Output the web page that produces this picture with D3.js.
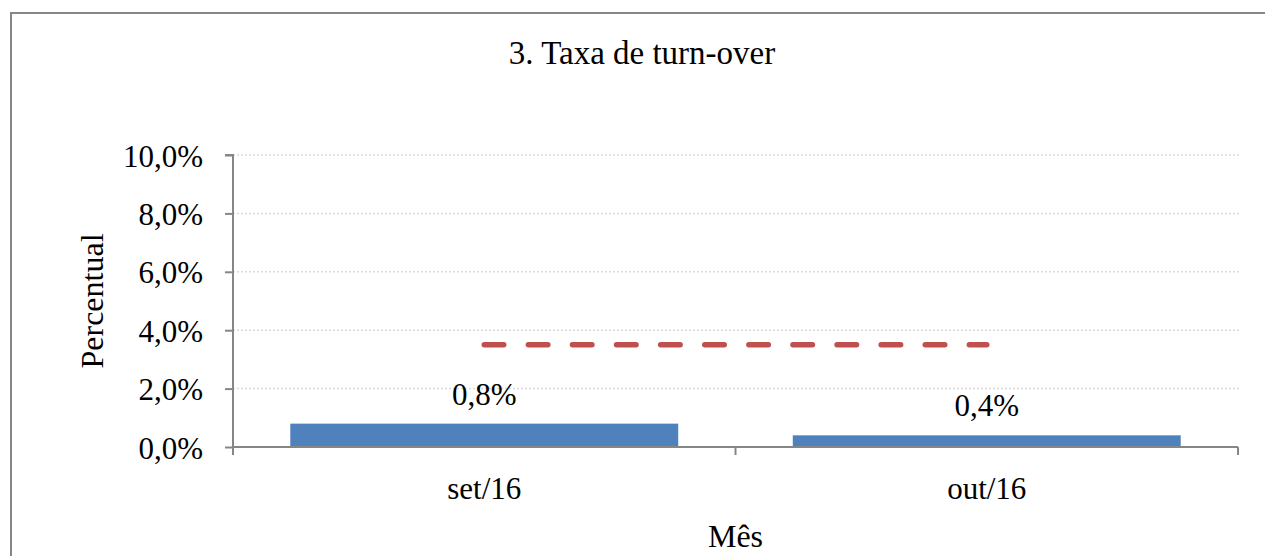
<!DOCTYPE html>
<html>
<head>
<meta charset="utf-8">
<script src="https://cdn.jsdelivr.net/npm/d3@7/dist/d3.min.js"></script>
<style>
  html, body { margin: 0; padding: 0; background: #fff; }
  svg { display: block; }
  text { font-family: "Liberation Serif", "Times New Roman", serif; fill: #000; }
</style>
</head>
<body>
<svg id="chart" width="1265" height="556"></svg>
<script>
const categories = ["set/16", "out/16"];
const turnover = [0.8, 0.4];
const meta = [3.5, 3.5];
const yTicks = [0, 2, 4, 6, 8, 10];
const titleText = "3. Taxa de turn-over";
const xTitle = "Mês";
const yTitle = "Percentual";

const svg = d3.select("#chart");
const W = 1265, H = 556;
const m = { left: 233, right: 1238, top: 155, bottom: 447 };
const axisColor = "#868686";
const fmt = v => v.toFixed(1).replace(".", ",") + "%";

// outer frame
svg.append("rect").attr("x", 11).attr("y", 13).attr("width", W + 20).attr("height", H + 20)
  .attr("fill", "none").attr("stroke", axisColor).attr("stroke-width", 2);

const x = d3.scaleBand().domain(categories).range([m.left, m.right]).paddingInner(0.228).paddingOuter(0.114);
const y = d3.scaleLinear().domain([0, 10]).range([m.bottom, m.top]);

// gridlines
svg.append("g").selectAll("line").data(yTicks.filter(t => t > 0)).join("line")
  .attr("x1", m.left).attr("x2", 1240)
  .attr("y1", d => y(d)).attr("y2", d => y(d))
  .attr("stroke", "#d9d9d9").attr("stroke-width", 1.5).attr("stroke-dasharray", "2,2");

// bars
svg.append("g").selectAll("rect").data(turnover).join("rect")
  .attr("x", (d, i) => x(categories[i]))
  .attr("width", x.bandwidth())
  .attr("y", d => y(d))
  .attr("height", d => y(0) - y(d))
  .attr("fill", "#4F81BD");

// data labels
svg.append("g").selectAll("text").data(turnover).join("text")
  .attr("x", (d, i) => x(categories[i]) + x.bandwidth() / 2)
  .attr("y", d => y(d) - 19)
  .attr("text-anchor", "middle")
  .attr("font-size", 31)
  .text(d => fmt(d));

// meta line
const xc = d => x(d) + x.bandwidth() / 2;
const line = d3.line().x((d, i) => xc(categories[i])).y(d => y(d));
svg.append("path").datum(meta).attr("d", line)
  .attr("fill", "none").attr("stroke", "#C0504D").attr("stroke-width", 5.5)
  .attr("stroke-linecap", "round").attr("stroke-dasharray", "19.5,24.6");

// y axis
const yAxis = d3.axisLeft(y).tickValues(yTicks).tickFormat(fmt).tickSize(8).tickPadding(22);
const gy = svg.append("g").attr("transform", `translate(${m.left},0)`).call(yAxis);
gy.select(".domain").attr("stroke", axisColor).attr("stroke-width", 2).attr("d", `M-8,${m.top}H0V${m.bottom}`);
gy.selectAll(".tick line").attr("stroke", axisColor).attr("stroke-width", 2);
gy.selectAll(".tick text").attr("font-size", 31).attr("font-family", "Liberation Serif").attr("fill", "#000").attr("dy", "0.36em");

// x axis
const xAxis = d3.axisBottom(x).tickSize(0).tickPadding(30);
const gx = svg.append("g").attr("transform", `translate(0,${m.bottom})`).call(xAxis);
gx.select(".domain").attr("stroke", axisColor).attr("stroke-width", 2).attr("d", `M${m.left},0H${m.right}`);
gx.selectAll(".tick text").attr("font-size", 31).attr("font-family", "Liberation Serif").attr("fill", "#000");
// category boundary ticks
const bounds = [m.left].concat(categories.map(c => x(c) + x.bandwidth() + x.step() * x.paddingInner() / 2)).slice(0, categories.length + 1);
bounds[bounds.length - 1] = m.right;
gx.append("g").selectAll("line").data(bounds).join("line")
  .attr("x1", d => d).attr("x2", d => d).attr("y1", 0).attr("y2", 8)
  .attr("stroke", axisColor).attr("stroke-width", 2);

// titles
svg.append("text").attr("x", 642).attr("y", 64).attr("text-anchor", "middle").attr("font-size", 33).text(titleText);
svg.append("text").attr("x", (m.left + m.right) / 2).attr("y", 547).attr("text-anchor", "middle").attr("font-size", 32).text(xTitle);
svg.append("text").attr("transform", `translate(103,${(m.top + m.bottom) / 2}) rotate(-90)`)
  .attr("text-anchor", "middle").attr("font-size", 32).text(yTitle);
</script>
</body>
</html>
